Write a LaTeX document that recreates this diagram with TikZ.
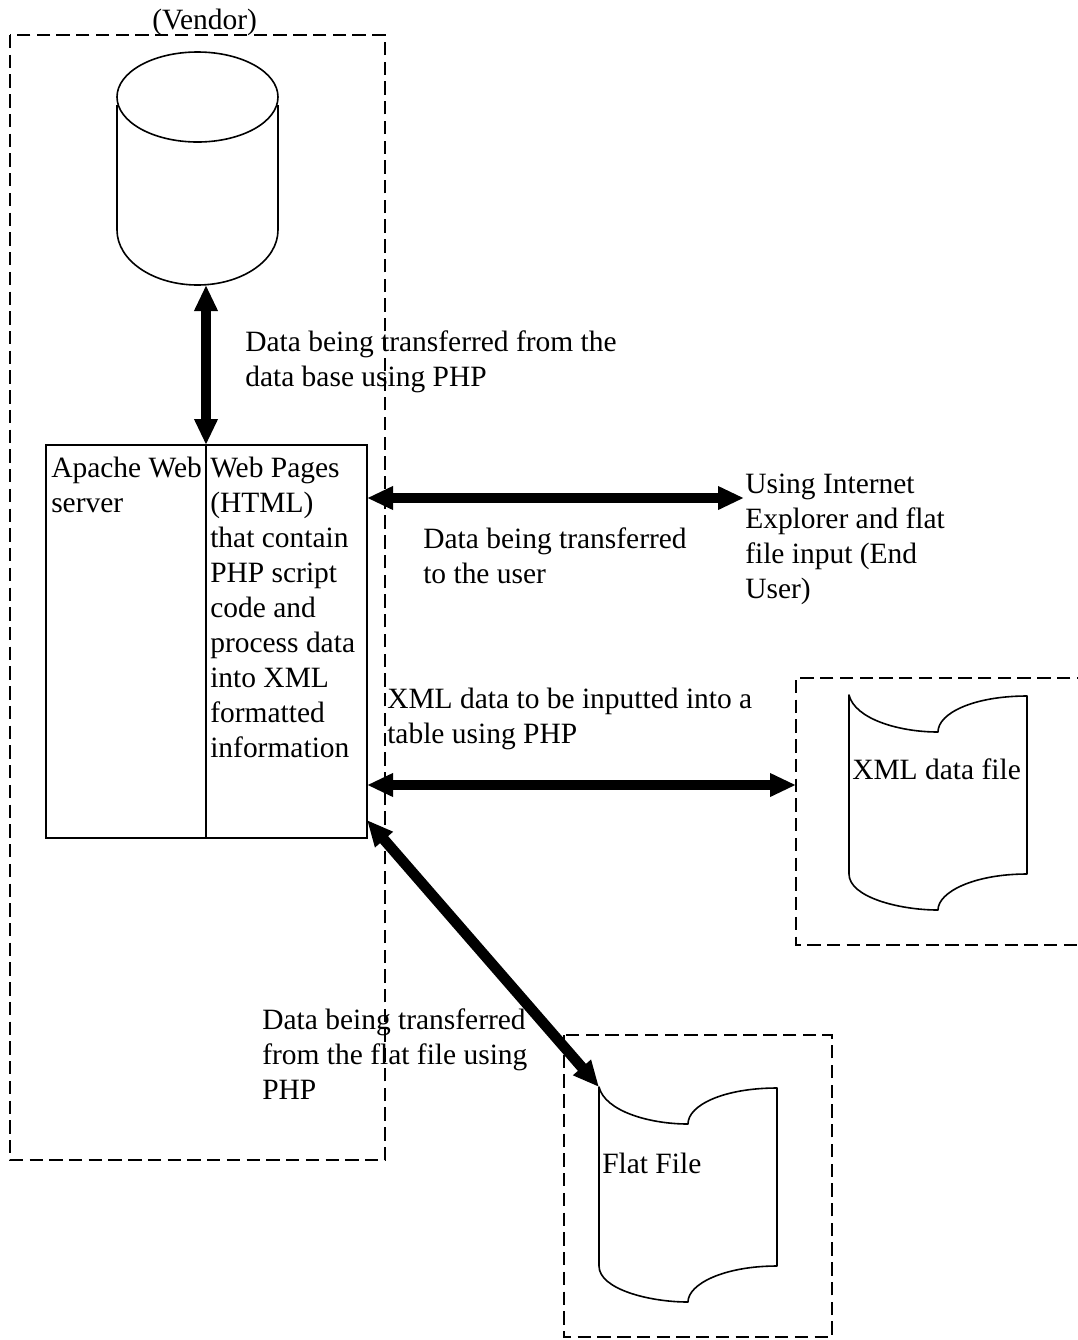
\documentclass[tikz,border=0pt]{standalone}
\usepackage{fontspec}
\setmainfont{Liberation Serif}
\usetikzlibrary{arrows.meta,positioning}
\begin{document}
\begin{tikzpicture}[
 x=0.75pt, y=-0.75pt, line join=miter,
 lbl/.style={anchor=north west, align=left, inner sep=0pt, font=\fontsize{22.1}{26.25}\selectfont, execute at begin node=\strut},
 group/.style={draw, line width=1.5pt, dash pattern=on 10pt off 4.8pt},
 box/.style={draw, line width=1.2pt, minimum height=294.75pt, inner sep=0pt, outer sep=0pt},
 link/.style={draw, {Triangle[length=19.5pt,width=16.5pt]}-{Triangle[length=19.5pt,width=16.5pt]}, line width=8pt},
 docfile/.pic={
  \draw[line width=1.2pt, line join=round] (0,0) .. controls (6,24) and (50,37) .. (89,37) .. controls (89,18) and (125,1) .. (178,1)
   -- (178,179) .. controls (125,179) and (89,197) .. (89,215) .. controls (50,215) and (0,202) .. (0,179) -- cycle;
 }]
\useasboundingbox (0,0) rectangle (1078,1340);
% dashed groups
\draw[group] (10,35) rectangle (385,1160);
\draw[group] (1090,678) -- (796,678) -- (796,945) -- (1090,945);
\draw[group] (564,1035) rectangle (832,1337);
\node[lbl] (vendor) at (152,5) {(Vendor)};
% data base
\draw[line width=1.2pt] (197.5,97) ellipse [x radius=80.5, y radius=45];
\draw[line width=1.2pt] (117,105) -- (117,230) arc[start angle=180, end angle=360, x radius=80.5, y radius=-55] -- (278,105);
\coordinate (dbase) at (206,285);
% web server
\node[box, minimum width=120pt, anchor=north west] (apache) at (46,445) {};
\node[box, minimum width=120.75pt, right=0pt of apache] (pages) {};
\node[lbl] (apachetxt) at (51,457) {Apache Web\\server};
\node[lbl] (pagestxt) at (210,457) {Web Pages\\(HTML)\\that contain\\PHP script\\code and\\process data\\into XML\\formatted\\information};
% files
\coordinate (xmlfile) at (849,695);
\coordinate (flatfile) at (599,1087);
\pic at (xmlfile) {docfile};
\pic at (flatfile) {docfile};
\node[lbl] (xmltxt) at (852,755) {XML data file};
\node[lbl] (flattxt) at (602,1149) {Flat File};
% end user
\coordinate (user) at (744,498);
\node[lbl] (usertxt) at (745,474) {Using Internet\\Explorer and flat\\file input (End\\User)};
% labels
\node[lbl] (t1) at (245,330) {Data being transferred from the\\data base using PHP};
\node[lbl] (t2) at (423,527) {Data being transferred\\to the user};
\node[lbl] (t3) at (387,688) {XML data to be inputted into a\\table using PHP};
\node[lbl] (t4) at (262,1008) {Data being transferred\\from the flat file using\\PHP};
% links
\coordinate (webuser) at (367,498);
\coordinate (webxml) at (367,785);
\coordinate (xmlin) at (796,785);
\coordinate (webflat) at (367,820);
\draw[link] (dbase) -- (pages.north west);
\draw[link] (webuser) -- (user);
\draw[link] (webxml) -- (xmlin);
\draw[link] (webflat) -- (flatfile);
\end{tikzpicture}
\end{document}
